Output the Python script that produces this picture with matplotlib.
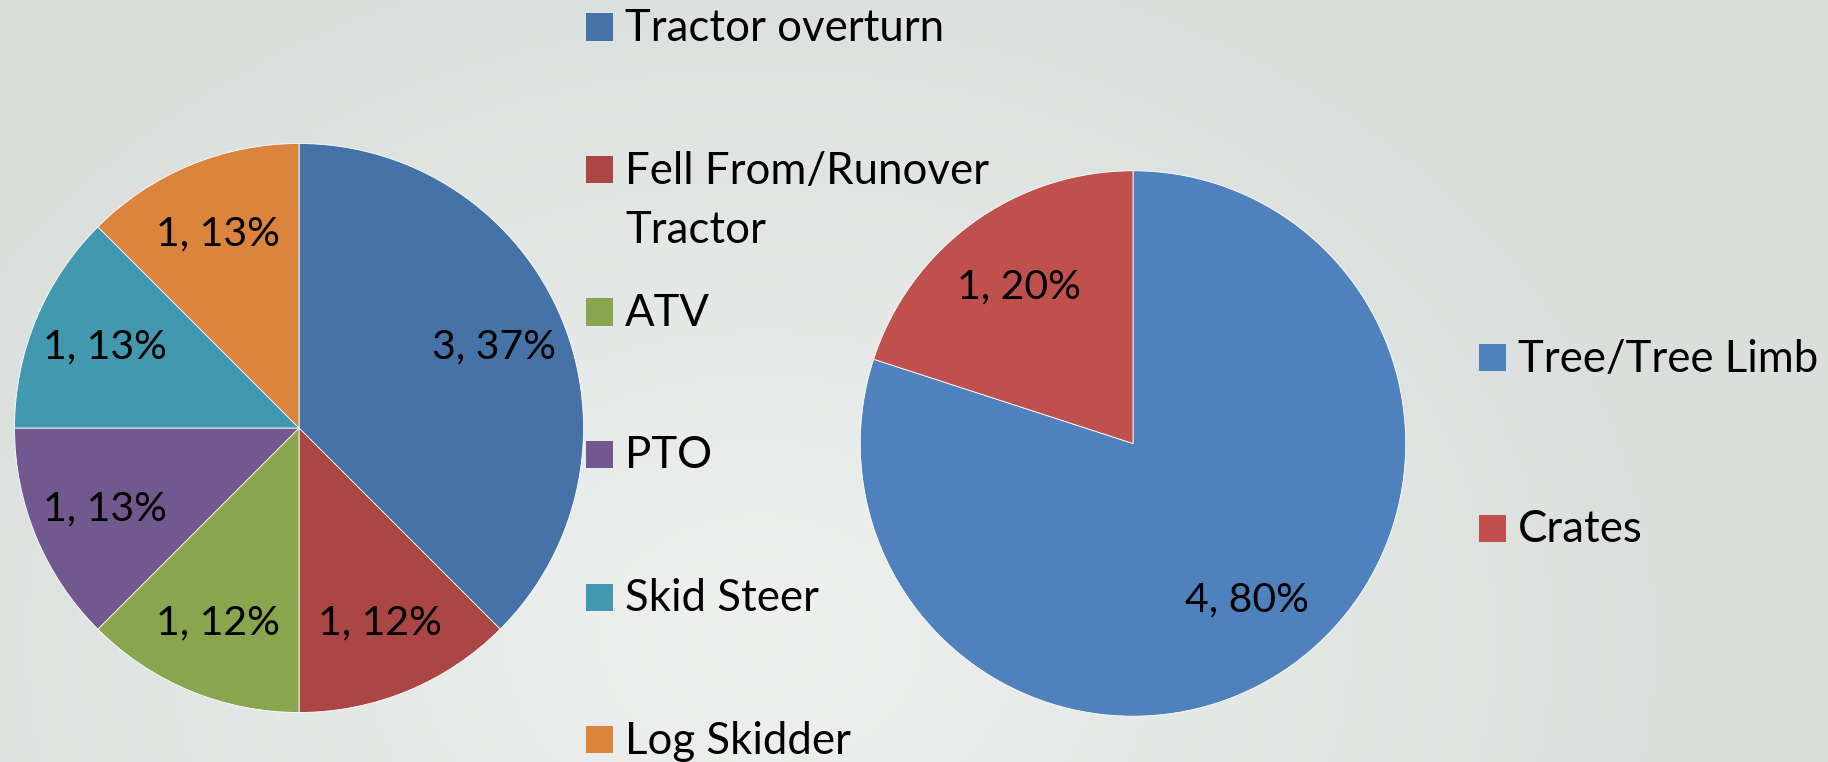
import numpy as np
import matplotlib
matplotlib.use("Agg")
import matplotlib.pyplot as plt
from matplotlib.patches import Rectangle

plt.rcParams['font.family'] = ['Lato', 'DejaVu Sans']

# left pie: vehicle related
veh_labels = ["Tractor overturn", "Fell From/Runover\nTractor", "ATV", "PTO",
              "Skid Steer", "Log Skidder"]
veh_counts = [3, 1, 1, 1, 1, 1]
veh_pct_text = ["37%", "12%", "12%", "13%", "13%", "13%"]
veh_colors = ["#4572a7", "#aa4643", "#89a54e", "#71588f", "#4198af", "#db843d"]

# right pie: struck by
obj_labels = ["Tree/Tree Limb", "Crates"]
obj_counts = [4, 1]
obj_pct_text = ["80%", "20%"]
obj_colors = ["#4f81bd", "#c0504d"]

W, H = 1828, 762
fig = plt.figure(figsize=(W / 100, H / 100), dpi=100)

# soft grey-green slide background
bg = fig.add_axes([0, 0, 1, 1], zorder=-10)
yy, xx = np.mgrid[0:H, 0:W]
d = np.sqrt(((xx - 760) / 900.0) ** 2 + ((yy - 640) / 700.0) ** 2)
lum = np.clip(1 - d, 0, 1)
c0 = np.array([0.855, 0.878, 0.866])
c1 = np.array([0.937, 0.945, 0.937])
img = c0 + (c1 - c0) * lum[..., None]
bg.imshow(img, aspect='auto', extent=[0, W, H, 0])
bg.set_xlim(0, W)
bg.set_ylim(H, 0)
bg.axis('off')


def px_axes(cx, cy, r):
    return fig.add_axes([(cx - r) / W, (H - cy - r) / H, 2 * r / W, 2 * r / H])


def draw_pie(ax, counts, colors, pct_text, dist):
    wedges, _ = ax.pie(counts, colors=colors, startangle=90, counterclock=False,
                       wedgeprops=dict(linewidth=0.6, edgecolor='white'))
    ax.set_xlim(-1, 1)
    ax.set_ylim(-1, 1)
    for w, n, p in zip(wedges, counts, pct_text):
        mid = np.deg2rad((w.theta1 + w.theta2) / 2)
        ax.text(dist * np.cos(mid), dist * np.sin(mid), f"{n}, {p}",
                ha='center', va='center', fontsize=29.5, color='black')
    return wedges


ax1 = px_axes(299, 428, 284.5)
draw_pie(ax1, veh_counts, veh_colors, veh_pct_text, 0.74)

ax2 = px_axes(1133, 443.5, 272.7)
draw_pie(ax2, obj_counts, obj_colors, obj_pct_text, 0.71)


def legend(x, ys, labels, colors, sq=27):
    for y, lab, col in zip(ys, labels, colors):
        fig.patches.append(Rectangle((x / W, (H - y - sq / 2) / H), sq / W, sq / H,
                                     transform=fig.transFigure, facecolor=col,
                                     edgecolor='none'))
        fig.text((x + sq + 12) / W, (H - y + 19) / H, lab, ha='left',
                 va='top', fontsize=31.5, color='black', linespacing=1.55)


legend(586, [27 + 142.5 * i for i in range(6)], veh_labels, veh_colors)
legend(1479, [358, 528], obj_labels, obj_colors)

fig.savefig("out.png", dpi=100)
